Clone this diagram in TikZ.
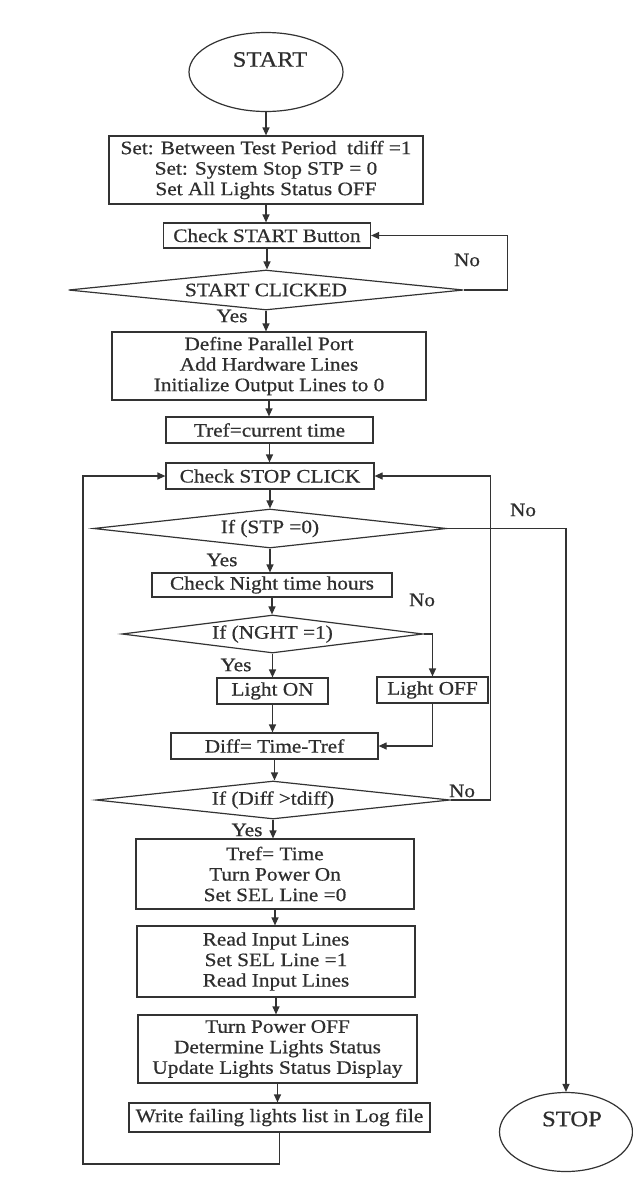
\documentclass[tikz,border=0pt]{standalone}
\usepackage{fontspec}
\setmainfont[FakeStretch=1.12,FakeBold=0.6]{Liberation Serif}
\usetikzlibrary{shapes.geometric,arrows.meta}
\begin{document}
\begin{tikzpicture}[x=1pt,y=-1pt,
  every node/.style={text=black!82},
  line/.style={draw=black!80,line width=1.2pt},
  arr/.style={line,-{Triangle[length=8pt,width=7pt]}},
  txt/.style={font=\fontsize{19}{20.5}\selectfont},
  proc/.style={line,txt,rectangle,inner sep=0pt,align=center},
  dec/.style={line,txt,diamond,aspect=8,inner sep=0pt},
  term/.style={line,ellipse,inner sep=0pt},
  big/.style={font=\fontsize{22}{24}\selectfont,inner sep=0pt},
  lbl/.style={txt,inner sep=0pt},
]
\useasboundingbox (0,0) rectangle (632,1189);
\fill[white] (0,0) rectangle (632,1189);

% terminals
\node[term,minimum width=154pt,minimum height=79pt] (start) at (266,72) {};
\node[big] (starttxt) at (270,59.5) {START};
\node[term,minimum width=133pt,minimum height=79pt] (stop) at (566,1132) {};
\node[big] (stoptxt) at (572,1119) {STOP};

% process boxes
\node[proc,minimum width=314pt,minimum height=68pt] (b1) at (266,170)
  {Set: Between Test Period~ tdiff =1\\Set: System Stop STP = 0\\Set All Lights Status OFF};
\node[proc,minimum width=207pt,minimum height=25pt] (b2) at (267,235.5) {Check START Button};
\node[dec,minimum width=395pt,minimum height=40pt] (d1) at (266,290) {START CLICKED};
\node[proc,minimum width=314pt,minimum height=68pt] (b3) at (269,366)
  {Define Parallel Port\\Add Hardware Lines\\Initialize Output Lines to 0};
\node[proc,minimum width=207pt,minimum height=26pt] (b4) at (269.5,430) {Tref=current time};
\node[proc,minimum width=208pt,minimum height=26pt] (b5) at (270,476) {Check STOP CLICK};
\node[dec,minimum width=353pt,minimum height=39pt] (d2) at (270,528.5) {If (STP =0)};
\node[proc,minimum width=240pt,minimum height=24pt] (b6) at (272,585) {Check Night time hours};
\node[dec,minimum width=301pt,minimum height=38pt] (d3) at (272.5,634) {If (NGHT =1)};
\node[proc,minimum width=111pt,minimum height=26pt] (lon) at (272.5,691) {Light ON};
\node[proc,minimum width=111pt,minimum height=26pt] (loff) at (432.5,690) {Light OFF};
\node[proc,minimum width=207pt,minimum height=26pt] (b7) at (274.5,746) {Diff= Time-Tref};
\node[dec,minimum width=354pt,minimum height=38pt] (d4) at (273,800) {If (Diff >tdiff)};
\node[proc,minimum width=278pt,minimum height=70pt] (b8) at (275,874)
  {Tref= Time\\Turn Power On\\Set SEL Line =0};
\node[proc,minimum width=278pt,minimum height=71pt] (b9) at (276,961.5)
  {Read Input Lines\\Set SEL Line =1\\Read Input Lines};
\node[proc,minimum width=279pt,minimum height=68pt] (b10) at (277.5,1049)
  {Turn Power OFF\\Determine Lights Status\\Update Lights Status Display};
\node[proc,minimum width=301pt,minimum height=29pt] (b11) at (279.5,1117.5)
  {Write failing lights list in Log file};

% labels
\node[lbl] (no1) at (467,260) {No};
\node[lbl] (yes1) at (232,316) {Yes};
\node[lbl] (no2) at (523,510) {No};
\node[lbl] (yes2) at (222,560) {Yes};
\node[lbl] (no3) at (422,600) {No};
\node[lbl] (yes3) at (236,665) {Yes};
\node[lbl] (no4) at (462,791) {No};
\node[lbl] (yes4) at (247,830) {Yes};

% main flow
\draw[arr] (start.south) -- (start.south |- b1.north);
\draw[arr] (b1.south) -- (b1.south |- b2.north);
\draw[arr] (b2.south) -- (b2.south |- d1.north);
\draw[arr] (d1.south) -- (d1.south |- b3.north);
\draw[arr] (b3.south) -- (b3.south |- b4.north);
\draw[arr] (b4.south) -- (b4.south |- b5.north);
\draw[arr] (b5.south) -- (b5.south |- d2.north);
\draw[arr] (d2.south) -- (d2.south |- b6.north);
\draw[arr] (b6.south) -- (b6.south |- d3.north);
\draw[arr] (d3.south) -- (d3.south |- lon.north);
\draw[arr] (lon.south) -- (lon.south |- b7.north);
\draw[arr] (b7.south) -- (b7.south |- d4.north);
\draw[arr] (d4.south) -- (d4.south |- b8.north);
\draw[arr] (b8.south) -- (b8.south |- b9.north);
\draw[arr] (b9.south) -- (b9.south |- b10.north);
\draw[arr] (b10.south) -- (b10.south |- b11.north);

% branches and loops
\draw[arr] (d1.east) -- ++(43,0) |- (b2.east);
\draw[arr] (d2.east) -| (stop.north);
\draw[arr] (d3.east) -| (loff.north);
\draw[arr] (loff.south) |- (b7.east);
\draw[arr] (d4.east) -- ++(40,0) |- (b5.east);
\coordinate (lc) at (83,1164);
\draw[arr] (b11.south) |- (lc) |- (b5.west);
\end{tikzpicture}
\end{document}
